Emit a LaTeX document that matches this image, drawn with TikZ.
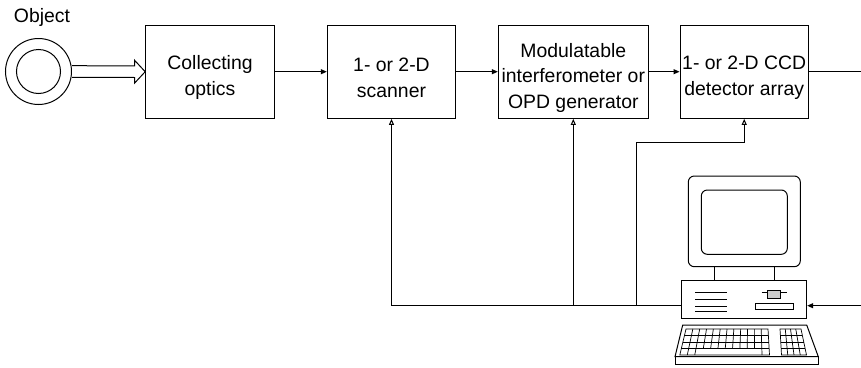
\documentclass[tikz,border=0pt]{standalone}
\usepackage{fontspec}
\setmainfont{Liberation Sans}
\usetikzlibrary{arrows.meta,calc}
\begin{document}
\begin{tikzpicture}[x=1pt,y=-1pt,
  line width=1pt,
  txt/.style={font=\fontsize{19.4}{25.6}\selectfont, inner sep=0pt, align=center},
  block/.style={draw, minimum height=93.3pt, inner sep=0pt},
  flow/.style={-{Triangle[length=6pt,width=5pt]}},
  ctrl/.style={-{Triangle[open,length=6pt,width=5pt]}},
  keys/.style={line width=0.7pt},
]
\useasboundingbox (0,0) rectangle (861,367);

% object and its label
\node[circle, draw, minimum size=66pt, inner sep=0pt] (obj) at (38.5,71.5) {};
\node[circle, draw, minimum size=44pt, inner sep=0pt] (objcore) at (obj.center) {};
\node[txt] (objlabel) at (42,17) {Object};

% processing chain: frames, then their captions
\node[block, minimum width=128.6pt] (optics)  at (210,71.7)   {};
\node[block, minimum width=128.4pt] (scanner) at (391.5,71.7) {};
\node[block, minimum width=150pt]   (mod)     at (573.3,71.7) {};
\node[block, minimum width=128.3pt] (ccd)     at (744.2,71.7) {};
\node[txt] (optics-t)  at ($(optics)+(0,6)$)  {Collecting\\optics};
\node[txt] (scanner-t) at ($(scanner)+(0,6)$) {1- or 2-D\\scanner};
\node[txt] (mod-t)     at ($(mod)+(0,6)$)     {Modulatable\\interferometer or\\OPD generator};
\node[txt] (ccd-t)     at ($(ccd)+(0,6)$)     {1- or 2-D CCD\\detector array};

% hollow light arrow from the object into the optics
\draw[fill=white]
  ($(obj.east)+(0,-5.8)$) -- ($(optics.west)+(-10.7,-5.8)$) -- ($(optics.west)+(-10.7,-11.5)$)
  -- (optics.west) -- ($(optics.west)+(-10.7,11.5)$) -- ($(optics.west)+(-10.7,5.8)$)
  -- ($(obj.east)+(0,5.8)$);

\draw[flow] (optics.east) -- (scanner.west);
\draw[flow] (scanner.east) -- (mod.west);
\draw[flow] (mod.east) -- (ccd.west);
\coordinate (out) at (861,71.7);
\draw (ccd.east) -- (out);

% computer: system unit
\node[draw, minimum width=125pt, minimum height=38.3pt, inner sep=0pt] (base) at (744.2,299.2) {};

% control bus
\coordinate (busL) at (391.5,305.7);
\coordinate (busM) at (573.3,305.7);
\coordinate (busR) at (636.7,305.7);
\coordinate (bend) at (636.7,142);
\draw (busL) -- (base.west |- busL);
\draw[ctrl] (busL) -- (scanner.south);
\draw[ctrl] (busM) -- (mod.south);
\draw[ctrl] (busR) -- (bend) -- (bend -| ccd.south) -- (ccd.south);
\coordinate (in) at (861,305.7);
\draw[flow] (in) -- (base.east |- in);

% monitor
\draw[rounded corners=6pt] (688.3,176) rectangle (800.3,266.7);
\draw[rounded corners=6pt] (701.3,190) rectangle (787.3,254.3);
\draw (714,266.7) rectangle (774.3,280);

% system unit details
\foreach \y in {292.3,299.3,306,311.7}
  \draw[keys] (695,\y) -- (727,\y);
\draw[keys] (755,303.3) rectangle (793.3,309);
\draw[keys] (761.7,292.3) -- (786.7,292.3);
\draw[keys, fill=gray!40] (767.3,290) rectangle (780,298.3);

% keyboard
\draw (682.7,325) -- (806.7,325) -- (818.3,356.7) -- (675,356.7) -- cycle;
\draw (675,356.7) rectangle (818.3,364.3);
% main key block
\draw[keys] (686,329) -- (768,329) -- (769.5,355) -- (679.8,355) -- cycle;
\foreach \y in {335.5,342,348.5} {
  \pgfmathsetmacro{\xl}{686-(\y-329)*0.2385}
  \pgfmathsetmacro{\xr}{768+(\y-329)*0.0577}
  \draw[keys] (\xl,\y) -- (\xr,\y);
}
\foreach \i in {1,...,11} {
  \pgfmathsetmacro{\xt}{686+\i*82/12}
  \pgfmathsetmacro{\xb}{679.8+\i*89.7/12}
  \pgfmathsetmacro{\xm}{\xt+0.75*(\xb-\xt)}
  \draw[keys] (\xt,329) -- (\xm,348.5);
}
\foreach \i in {1,2,11} {
  \pgfmathsetmacro{\xt}{686+\i*82/12}
  \pgfmathsetmacro{\xb}{679.8+\i*89.7/12}
  \pgfmathsetmacro{\xm}{\xt+0.75*(\xb-\xt)}
  \draw[keys] (\xm,348.5) -- (\xb,355);
}
% numeric key block
\draw[keys] (780,329) -- (801,329) -- (806.5,355) -- (781.5,355) -- cycle;
\foreach \y in {335.5,342,348.5} {
  \pgfmathsetmacro{\xl}{780+(\y-329)*0.0577}
  \pgfmathsetmacro{\xr}{801+(\y-329)*0.2115}
  \draw[keys] (\xl,\y) -- (\xr,\y);
}
\foreach \i in {1,2,3} {
  \pgfmathsetmacro{\xt}{780+\i*21/4}
  \pgfmathsetmacro{\xb}{781.5+\i*25/4}
  \draw[keys] (\xt,329) -- (\xb,355);
}
\end{tikzpicture}
\end{document}
